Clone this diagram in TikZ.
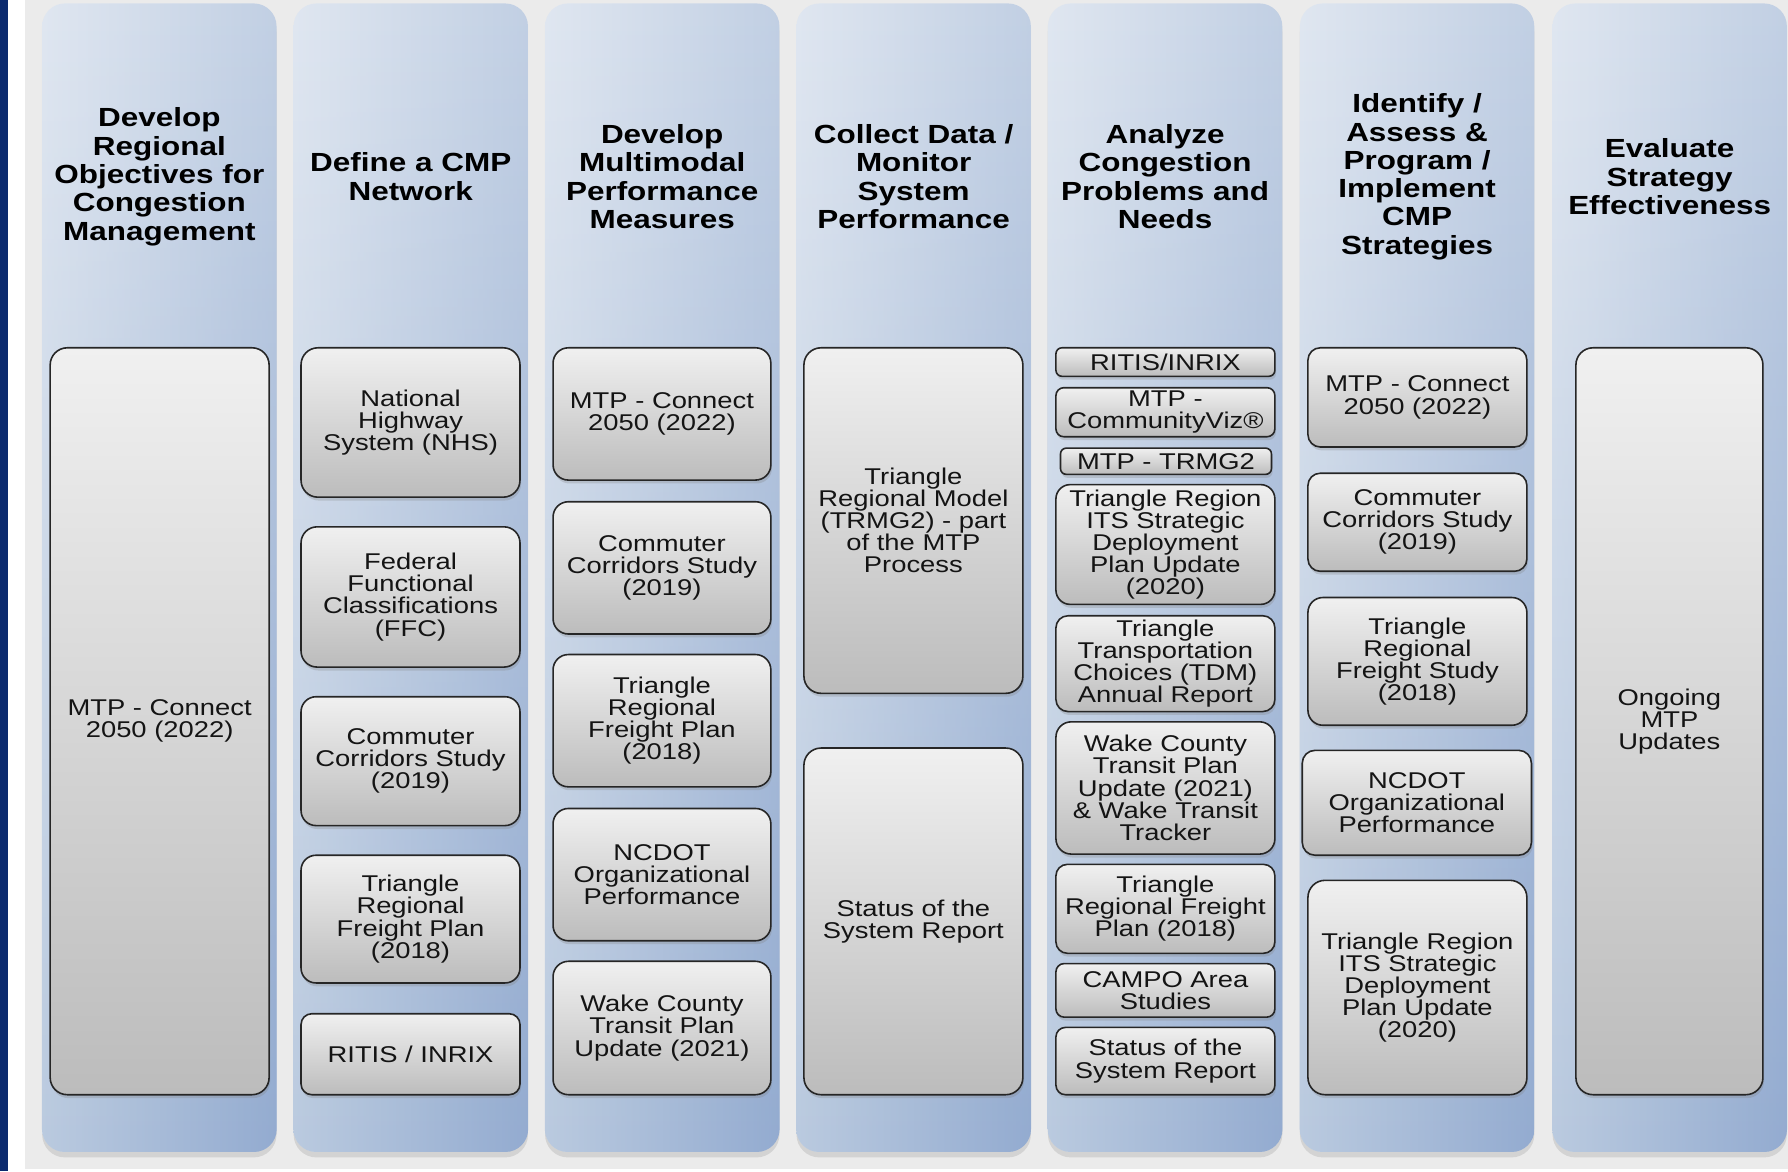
\documentclass[tikz,border=0pt]{standalone}
\usepackage{fontspec}
\setmainfont[FakeStretch=1.2]{Liberation Sans}
\usetikzlibrary{shadows,fadings}
\definecolor{navy}{HTML}{0B2A6E}
\definecolor{bggray}{HTML}{EBEBEB}
\definecolor{colTL}{HTML}{E0E7F1}
\definecolor{colTR}{HTML}{C2D0E4}
\definecolor{colBL}{HTML}{BACADF}
\definecolor{colBR}{HTML}{93ABD0}
\definecolor{boxT}{HTML}{F0F0F0}
\definecolor{boxB}{HTML}{BCBCBC}
\definecolor{boxline}{HTML}{262626}
\definecolor{txt}{HTML}{141414}
\tikzset{
 colst/.style={rounded corners=20pt, left color=colTL, right color=colTR, draw=none, inner sep=0pt,
   drop shadow={shadow xshift=0pt, shadow yshift=-5pt, opacity=0.22}},
 coldark/.style={rounded corners=20pt, left color=colBL, right color=colBR, path fading=north},
 titlest/.style={font=\fontsize{23}{24.8}\selectfont\bfseries, align=center, text=black, inner sep=0pt},
 boxst/.style={draw=boxline, line width=1.4pt, top color=boxT, bottom color=boxB, align=center, inner sep=0pt,
   font=\fontsize{20}{19.4}\selectfont, text=txt,
   drop shadow={shadow xshift=1pt, shadow yshift=-3pt, opacity=0.28}}
}
\newcommand\cmpbox[6]{%
  \pgfmathsetmacro\cmpbw{#4-#2}\pgfmathsetmacro\cmpbh{#5-#3}%
  \pgfmathsetmacro\cmpbr{min(15,3+0.09*\cmpbh)}%
  \node[boxst, rounded corners=\cmpbr pt, minimum width=\cmpbw pt, minimum height=\cmpbh pt]
    (#1) at ({(#2+#4)/2},{(#3+#5)/2}) {#6};}
\newcommand\cmpcol[3]{%
  \node[colst, minimum width=205.5pt, minimum height=1007pt] (#1) at ({#2+102.75},506.5) {};
  \path[coldark] (#1.south west) rectangle (#1.north east);
  \node[titlest] (#1t) at ({#2+102.75},155) {#3};}
\begin{document}
\begin{tikzpicture}[x=1pt,y=-1pt]
\useasboundingbox (0,0) rectangle (1568,1027);
\fill[white] (0,0) rectangle (1568,1027);
\fill[navy] (0,0) rectangle (7,1027);
\fill[bggray] (22,0) rectangle (1568,1025);

\cmpcol{c1}{37}{Develop\\Regional\\Objectives for\\Congestion\\Management}
\cmpcol{c2}{257.5}{Define a CMP\\Network}
\cmpcol{c3}{478}{Develop\\Multimodal\\Performance\\Measures}
\cmpcol{c4}{698.5}{Collect Data /\\Monitor\\System\\Performance}
\cmpcol{c5}{919}{Analyze\\Congestion\\Problems and\\Needs}
\cmpcol{c6}{1140}{Identify /\\Assess \&\\Program /\\Implement\\CMP\\Strategies}
\cmpcol{c7}{1361.5}{Evaluate\\Strategy\\Effectiveness}

% column 1
\cmpbox{b11}{44}{305}{236}{960}{MTP - Connect\\2050 (2022)}
% column 2
\cmpbox{b21}{264}{305}{456}{436}{National\\Highway\\System (NHS)}
\cmpbox{b22}{264}{462}{456}{585}{Federal\\Functional\\Classifications\\(FFC)}
\cmpbox{b23}{264}{611}{456}{724}{Commuter\\Corridors Study\\(2019)}
\cmpbox{b24}{264}{750}{456}{862}{Triangle\\Regional\\Freight Plan\\(2018)}
\cmpbox{b25}{264}{889}{456}{960}{RITIS / INRIX}
% column 3
\cmpbox{b31}{485}{305}{676}{421}{MTP - Connect\\2050 (2022)}
\cmpbox{b32}{485}{440}{676}{556}{Commuter\\Corridors Study\\(2019)}
\cmpbox{b33}{485}{574}{676}{690}{Triangle\\Regional\\Freight Plan\\(2018)}
\cmpbox{b34}{485}{709}{676}{825}{NCDOT\\Organizational\\Performance}
\cmpbox{b35}{485}{843}{676}{960}{Wake County\\Transit Plan\\Update (2021)}
% column 4
\cmpbox{b41}{705}{305}{897}{608}{Triangle\\Regional Model\\(TRMG2) - part\\of the MTP\\Process}
\cmpbox{b42}{705}{656}{897}{960}{Status of the\\System Report}
% column 5
\cmpbox{b51}{926}{305}{1118}{330}{RITIS/INRIX}
\cmpbox{b52}{926}{340}{1118}{383}{MTP -\\CommunityViz®}
\cmpbox{b53}{930}{393}{1115}{416}{MTP - TRMG2}
\cmpbox{b54}{926}{425}{1118}{530}{Triangle Region\\ITS Strategic\\Deployment\\Plan Update\\(2020)}
\cmpbox{b55}{926}{540}{1118}{624}{Triangle\\Transportation\\Choices (TDM)\\Annual Report}
\cmpbox{b56}{926}{633}{1118}{749}{Wake County\\Transit Plan\\Update (2021)\\\& Wake Transit\\Tracker}
\cmpbox{b57}{926}{758}{1118}{836}{Triangle\\Regional Freight\\Plan (2018)}
\cmpbox{b58}{926}{845}{1118}{892}{CAMPO Area\\Studies}
\cmpbox{b59}{926}{901}{1118}{960}{Status of the\\System Report}
% column 6
\cmpbox{b61}{1147}{305}{1339}{392}{MTP - Connect\\2050 (2022)}
\cmpbox{b62}{1147}{415}{1339}{501}{Commuter\\Corridors Study\\(2019)}
\cmpbox{b63}{1147}{524}{1339}{636}{Triangle\\Regional\\Freight Study\\(2018)}
\cmpbox{b64}{1142}{658}{1343}{750}{NCDOT\\Organizational\\Performance}
\cmpbox{b65}{1147}{772}{1339}{960}{Triangle Region\\ITS Strategic\\Deployment\\Plan Update\\(2020)}
% column 7
\cmpbox{b71}{1382}{305}{1546}{960}{Ongoing\\MTP\\Updates}
\end{tikzpicture}
\end{document}
